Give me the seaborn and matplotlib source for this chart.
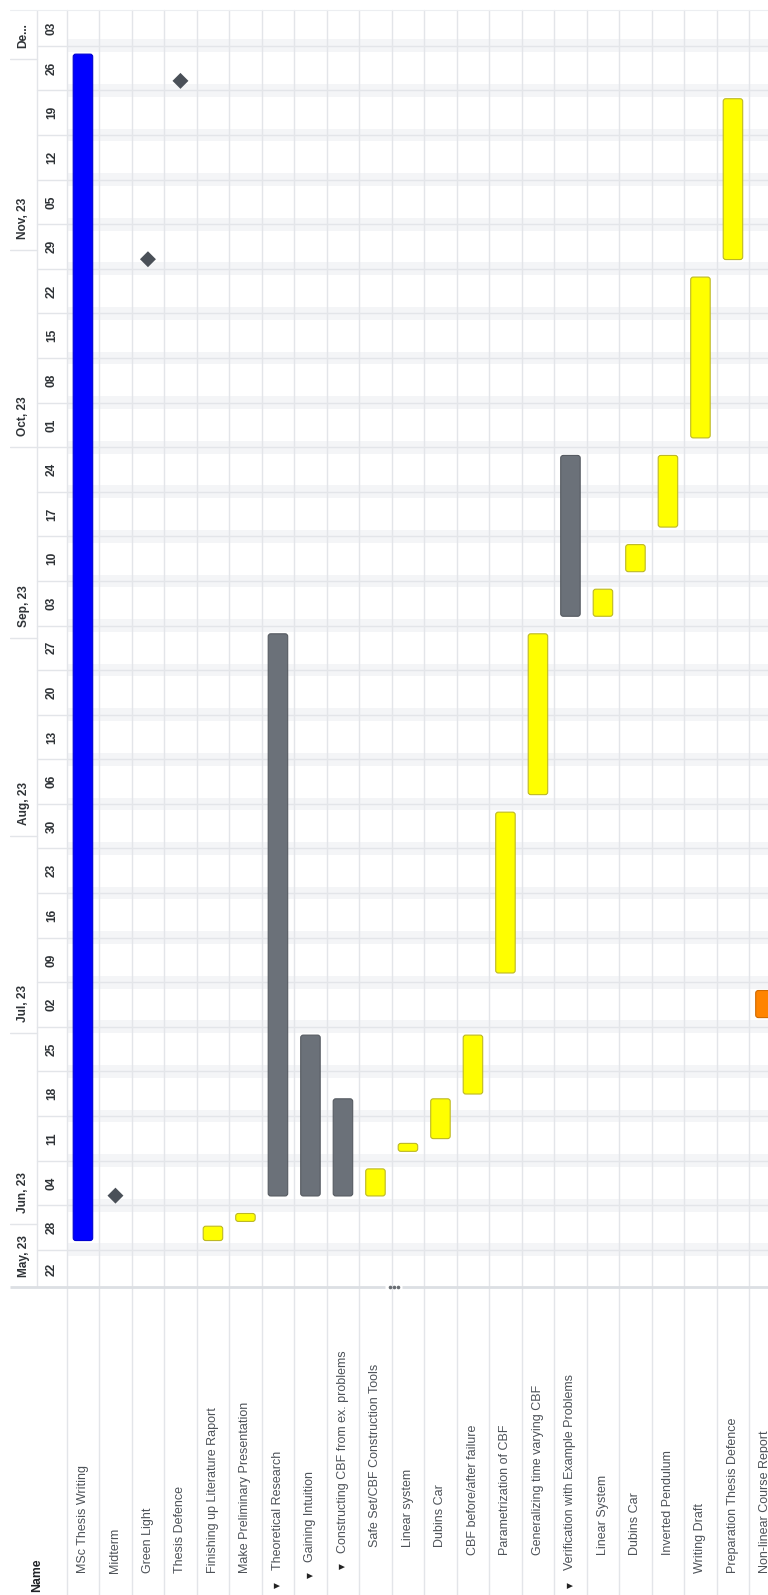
import matplotlib
matplotlib.use("Agg")
import matplotlib.pyplot as plt
import matplotlib.dates as mdates
import matplotlib.transforms as mtransforms
from matplotlib.patches import FancyBboxPatch
from matplotlib.lines import Line2D
import numpy as np
import pandas as pd
import seaborn as sns

# ---------------- schedule data ----------------
task_names = [
    "MSc Thesis Writing", "Midterm", "Green Light", "Thesis Defence",
    "Finishing up Literature Raport", "Make Preliminary Presentation",
    "Theoretical Research", "Gaining Intuition",
    "Constructing CBF from ex. problems", "Safe Set/CBF Construction Tools",
    "Linear system", "Dubins Car", "CBF before/after failure",
    "Parametrization of CBF", "Generalizing time varying CBF",
    "Verification with Example Problems", "Linear System", "Dubins Car",
    "Inverted Pendulum", "Writing Draft", "Preparation Thesis Defence",
    "Non-linear Course Report",
]
task_type = [
    "project", "milestone", "milestone", "milestone", "task", "task",
    "summary", "summary", "summary", "task", "task", "task", "task",
    "task", "task", "summary", "task", "task", "task", "task", "task",
    "course",
]
task_depth = [0, 0, 0, 0, 0, 0, 0, 1, 2, 3, 3, 3, 2, 1, 1, 0, 1, 1, 1, 0, 0, 0]
task_start = [
    "2023-05-29", "2023-06-05", "2023-10-30", "2023-11-27", "2023-05-29",
    "2023-06-01", "2023-06-05", "2023-06-05", "2023-06-05", "2023-06-05",
    "2023-06-12", "2023-06-14", "2023-06-21", "2023-07-10", "2023-08-07",
    "2023-09-04", "2023-09-04", "2023-09-11", "2023-09-18", "2023-10-02",
    "2023-10-30", "2023-07-03",
]
task_end = [
    "2023-12-02", "2023-06-05", "2023-10-30", "2023-11-27", "2023-06-01",
    "2023-06-03", "2023-09-02", "2023-07-01", "2023-06-21", "2023-06-10",
    "2023-06-14", "2023-06-21", "2023-07-01", "2023-08-05", "2023-09-02",
    "2023-09-30", "2023-09-09", "2023-09-16", "2023-09-30", "2023-10-28",
    "2023-11-25", "2023-07-08",
]
month_starts = ["2023-05-22", "2023-06-01", "2023-07-01", "2023-08-01",
                "2023-09-01", "2023-10-01", "2023-11-01", "2023-12-01"]
month_labels = ["May, 23", "Jun, 23", "Jul, 23", "Aug, 23",
                "Sep, 23", "Oct, 23", "Nov, 23", "De..."]
VIEW_START = "2023-05-22"
VIEW_END = "2023-12-08 15:00"

# ---------------- styling ----------------
palette = {
    "project": ("#0000ff", "#0000d0"),
    "summary": ("#6b7179", "#555a61"),
    "task": ("#ffff00", "#bdb825"),
    "course": ("#ff8400", "#d06a00"),
}
MILESTONE_COLOR = "#4a5058"
GRID = "#e3e5e9"
WEEKEND = "#f4f5f7"
LABEL_COLOR = "#4d5258"
HEAD_COLOR = "#2f3337"

sns.set_theme(style="white")
plt.rcParams["font.family"] = ["Liberation Sans", "DejaVu Sans"]

W, H = 768, 1595
fig = plt.figure(figsize=(W / 100, H / 100), dpi=100)
fig.patch.set_facecolor("white")

# pixel-space transform (x right, y down from top-left)
T_px = mtransforms.Affine2D().scale(1 / W, -1 / H).translate(0, 1) + fig.transFigure


def frame(x0, y0, x1, y1):
    return [x0 / W, 1 - y1 / H, (x1 - x0) / W, (y1 - y0) / H]


CHART_L, CHART_T, CHART_B = 66.7, 10, 1288
HEAD_L, HEAD_MID = 10, 37.3
ROW_PX = 32.5

t0 = mdates.date2num(pd.Timestamp(VIEW_START))
t1 = mdates.date2num(pd.Timestamp(VIEW_END))
px_per_day = (CHART_B - CHART_T) / (t1 - t0)

ax = fig.add_axes(frame(CHART_L, CHART_T, W, CHART_B))
ax.set_xlim(0, (W - CHART_L) / ROW_PX)
ax.set_ylim(t0, t1)
ax.set_axis_off()

hax = fig.add_axes(frame(HEAD_L, CHART_T, CHART_L, CHART_B), sharey=ax)
hax.set_xlim(HEAD_L, CHART_L)
hax.set_axis_off()

nax = fig.add_axes(frame(CHART_L, CHART_B, W, H), sharex=ax)
nax.set_ylim(H, CHART_B)
nax.set_axis_off()

# ---------------- calendar grid ----------------
sundays = pd.date_range("2023-05-28", "2023-12-03", freq="7D")
for s in sundays:
    sn = mdates.date2num(s)
    ax.axhspan(sn - 1, sn + 1, color=WEEKEND, lw=0, zorder=0)
    ax.axhline(sn, color=GRID, lw=1.0, zorder=1)
    hax.plot([HEAD_MID, CHART_L], [sn, sn], color=GRID, lw=1.0)

n_rows = len(task_names)
for k in range(n_rows + 1):
    ax.axvline(k, color=GRID, lw=1.0, zorder=1, clip_on=False)
    nax.axvline(k, color=GRID, lw=1.0, zorder=1, clip_on=False)

# header separators
hax.plot([HEAD_MID, HEAD_MID], [t0, t1], color=GRID, lw=1.0)
for m in month_starts[1:]:
    mn = mdates.date2num(pd.Timestamp(m))
    hax.plot([HEAD_L, HEAD_MID], [mn, mn], color=GRID, lw=1.0)
fig.add_artist(Line2D([HEAD_L, W], [CHART_T, CHART_T], transform=T_px,
                      color="#eceef1", lw=0.8))

# month labels
for m, lab in zip(month_starts, month_labels):
    mn = mdates.date2num(pd.Timestamp(m))
    hax.text(23.5, mn + 11 / px_per_day, lab, rotation=90, ha="center",
             va="bottom", fontsize=8.6, fontweight="bold", color=HEAD_COLOR)

# week labels (centred in each visible week cell)
edges = [t0] + [mdates.date2num(s) for s in sundays] + [t1]
cell_days = [pd.Timestamp(VIEW_START)] + list(sundays)
for (a, b), d in zip(zip(edges[:-1], edges[1:]), cell_days):
    hax.text(51.8, (a + b) / 2, d.strftime("%d"), rotation=90, ha="center",
             va="center", fontsize=8.6, fontweight="bold", color=HEAD_COLOR)

# ---------------- bars ----------------
BAR_W = 0.6
RADIUS = 2.6 / ROW_PX
aspect = ROW_PX / px_per_day
for i, (kind, s, e) in enumerate(zip(task_type, task_start, task_end)):
    if kind == "milestone":
        continue
    y0 = mdates.date2num(pd.Timestamp(s)) + 0.45
    y1 = mdates.date2num(pd.Timestamp(e)) - 0.3
    fc, ec = palette[kind]
    ax.add_patch(FancyBboxPatch(
        (i + 0.5 - BAR_W / 2, y0), BAR_W, y1 - y0,
        boxstyle=f"round,pad=0,rounding_size={RADIUS}",
        mutation_aspect=aspect, fc=fc, ec=ec, lw=0.8, zorder=3,
        clip_on=False))

# milestones
ms = pd.DataFrame({
    "row": [i + 0.5 for i, k in enumerate(task_type) if k == "milestone"],
    "date": [mdates.date2num(pd.Timestamp(task_start[i])) + 0.5
             for i, k in enumerate(task_type) if k == "milestone"],
})
sns.scatterplot(data=ms, x="row", y="date", marker="D", s=66,
                color=MILESTONE_COLOR, edgecolor="none", ax=ax,
                legend=False, zorder=4)
ax.set_xlim(0, (W - CHART_L) / ROW_PX)
ax.set_ylim(t0, t1)
ax.set_axis_off()

# ---------------- name column ----------------
leaf_start = {0: 1573, 1: 1555, 2: 1555, 3: 1547}
for i, (name, kind, depth) in enumerate(zip(task_names, task_type, task_depth)):
    if kind == "summary":
        y_text = 1570 - 8.5 * depth
        y_tri = 1585 - 9.5 * depth
        nax.text(i + 0.5, y_tri, "\u25bc", rotation=90, ha="center",
                 va="center", fontsize=5.5, color="#222222",
                 family=["DejaVu Sans"])
    else:
        y_text = leaf_start[depth]
    nax.text(i + 0.5, y_text, name, rotation=90, ha="center", va="bottom",
             fontsize=9, color=LABEL_COLOR)

fig.text(37.5, 1592, "Name", transform=T_px, rotation=90, ha="center",
         va="bottom", fontsize=8.8, fontweight="bold", color="#1f2226")

# horizontal scroll divider
fig.add_artist(Line2D([HEAD_L, 385], [1287, 1287], transform=T_px,
                      color="#dcdfe3", lw=2.0, solid_capstyle="butt"))
fig.add_artist(Line2D([402, W], [1287, 1287], transform=T_px,
                      color="#dcdfe3", lw=2.0, solid_capstyle="butt"))
for dx in (-4, 0, 4):
    fig.add_artist(Line2D([393.5 + dx], [1287], transform=T_px, marker="o",
                          markersize=1.6, color="#6a6e74", lw=0))

fig.savefig("out.png", dpi=100, facecolor="white")
